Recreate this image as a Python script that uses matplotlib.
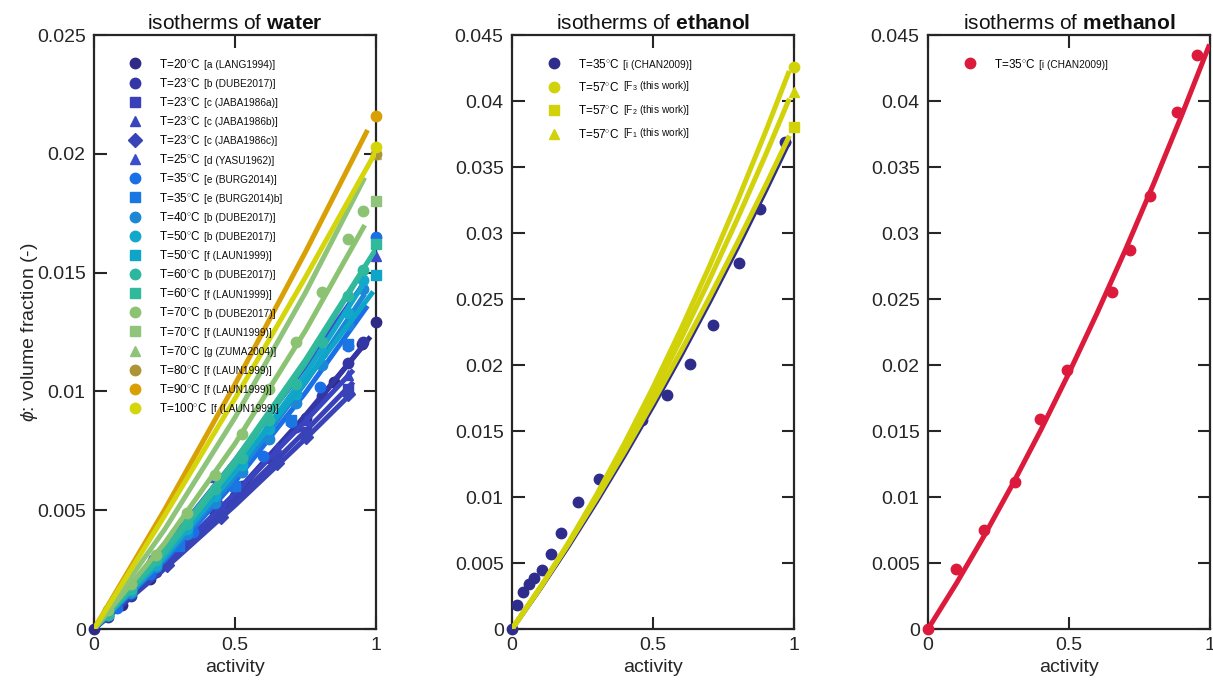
import matplotlib
matplotlib.use('Agg')
import matplotlib.pyplot as plt

plt.rcParams['font.family'] = ['Liberation Sans', 'DejaVu Sans']
plt.rcParams['mathtext.fontset'] = 'custom'
plt.rcParams['mathtext.rm'] = 'Liberation Sans'
plt.rcParams['mathtext.it'] = 'Liberation Sans:italic'
plt.rcParams['mathtext.bf'] = 'Liberation Sans:bold'

AXC = '#262626'

# ---------------- water data ----------------
a_dube = [0.05, 0.13, 0.22, 0.33, 0.43, 0.525, 0.62, 0.715, 0.81, 0.90, 0.955]
phi_dube23 = [0.0005, 0.0014, 0.0024, 0.0037, 0.0049, 0.0060, 0.0072, 0.0085, 0.0098, 0.0112, 0.0121]
phi_dube40 = [0.0006, 0.0015, 0.0026, 0.0040, 0.0053, 0.0066, 0.0080, 0.0095, 0.0111, 0.0128, 0.0143]
phi_dube50 = [0.0006, 0.0016, 0.0027, 0.0042, 0.0056, 0.0069, 0.0084, 0.0099, 0.0116, 0.0133, 0.0147]
phi_dube60 = [0.0006, 0.0017, 0.0029, 0.0044, 0.0059, 0.0072, 0.0088, 0.0103, 0.0121, 0.0140, 0.0151]
phi_dube70 = [0.0008, 0.0019, 0.0031, 0.0049, 0.0065, 0.0082, 0.0101, 0.0121, 0.0142, 0.0164, 0.0176]

a_lang20 = [0.0, 0.10, 0.20, 0.50, 0.75, 0.85, 0.95, 1.0]
phi_lang20 = [0.0, 0.0010, 0.0021, 0.0056, 0.0089, 0.0104, 0.0120, 0.0129]

a_jaba = [0.26, 0.45, 0.65, 0.75, 0.90]
phi_jaba_a = [0.0028, 0.0049, 0.0072, 0.0083, 0.0101]
phi_jaba_b = [0.0030, 0.0052, 0.0076, 0.0088, 0.0107]
phi_jaba_c = [0.0027, 0.0047, 0.0070, 0.0081, 0.0099]

a_yasu25 = [0.20, 0.43, 0.70, 1.0]
phi_yasu25 = [0.0029, 0.0064, 0.0104, 0.0157]

a_burg35 = [0.08, 0.20, 0.35, 0.50, 0.60, 0.70, 0.80, 0.90, 1.0]
phi_burg35 = [0.0009, 0.0023, 0.0041, 0.0060, 0.0073, 0.0087, 0.0102, 0.0119, 0.0165]
a_burg35b = [0.30, 0.50, 0.70, 0.90]
phi_burg35b = [0.0035, 0.0060, 0.0088, 0.0120]

a_sat = [1.0]
phi_laun50 = [0.0149]
phi_laun60 = [0.0162]
phi_laun70 = [0.0180]
phi_zuma70 = [0.0200]
phi_laun80 = [0.0200]
phi_laun90 = [0.0216]
phi_laun100 = [0.0203]

# fitted isotherms
fa_lang20 = [0, 0.25, 0.5, 0.75, 0.98]
fp_lang20 = [0, 0.00262, 0.0056, 0.00893, 0.0123]
fa_dube = [0, 0.25, 0.5, 0.75, 0.96]
fp_dube23 = [0, 0.00270, 0.0057, 0.00900, 0.0120]
fp_dube40 = [0, 0.00294, 0.0064, 0.01037, 0.0141]
fp_dube50 = [0, 0.00303, 0.0066, 0.01072, 0.0146]
fp_dube60 = [0, 0.00318, 0.0069, 0.01118, 0.0152]
fp_dube70 = [0, 0.00361, 0.0078, 0.01256, 0.0170]
fa_jaba = [0, 0.25, 0.5, 0.75, 0.92]
fp_jaba_a = [0, 0.00263, 0.0054, 0.00833, 0.0104]
fp_jaba_b = [0, 0.00278, 0.0057, 0.00875, 0.0109]
fp_jaba_c = [0, 0.00253, 0.0052, 0.00801, 0.0100]
fa_yasu25 = [0, 0.25, 0.5, 0.75, 0.96]
fp_yasu25 = [0, 0.00341, 0.0071, 0.01106, 0.0146]
fa_burg35 = [0, 0.25, 0.5, 0.75, 0.97]
fp_burg35 = [0, 0.00288, 0.0062, 0.00995, 0.0136]
fa_laun50 = [0, 0.25, 0.5, 0.75, 0.99]
fp_laun50 = [0, 0.00323, 0.0067, 0.01041, 0.0142]
fa_laun60 = [0, 0.25, 0.5, 0.75, 1.0]
fp_laun60 = [0, 0.00333, 0.0071, 0.01133, 0.0160]
fa_zuma70 = [0, 0.25, 0.5, 0.75, 0.96]
fp_zuma70 = [0, 0.00418, 0.0089, 0.01416, 0.0190]
fa_laun90 = [0, 0.25, 0.5, 0.75, 0.97]
fp_laun90 = [0, 0.00501, 0.0103, 0.01587, 0.0210]
fa_laun100 = [0, 0.25, 0.5, 0.75, 1.0]
fp_laun100 = [0, 0.00476, 0.0097, 0.01481, 0.0201]

water_temps = ['20', '23', '23', '23', '23', '25', '35', '35', '40', '50', '50', '60',
               '60', '70', '70', '70', '80', '90', '100']
water_refs = ['[a (LANG1994)]', '[b (DUBE2017)]', '[c (JABA1986a)]', '[c (JABA1986b)]',
              '[c (JABA1986c)]', '[d (YASU1962)]', '[e (BURG2014)]', '[e (BURG2014)b]',
              '[b (DUBE2017)]', '[b (DUBE2017)]', '[f (LAUN1999)]', '[b (DUBE2017)]',
              '[f (LAUN1999)]', '[b (DUBE2017)]', '[f (LAUN1999)]', '[g (ZUMA2004)]',
              '[f (LAUN1999)]', '[f (LAUN1999)]', '[f (LAUN1999)]']
water_colors = ['#2f2a85', '#3436a6', '#3a40b8', '#3a44c0', '#3943b8', '#3b4ccc',
                '#1b6fe6', '#1a76e0', '#1c87d6', '#12a8cc', '#0ea5c8', '#2db79f',
                '#31b99c', '#8bc373', '#90c47c', '#8ec47a', '#ad9535', '#d9a005',
                '#d5d50b']
water_markers = ['o', 'o', 's', '^', 'D', '^', 'o', 's', 'o', 'o', 's', 'o', 's',
                 'o', 's', '^', 'o', 'o', 'o']
water_points = [(a_lang20, phi_lang20), (a_dube, phi_dube23), (a_jaba, phi_jaba_a),
                (a_jaba, phi_jaba_b), (a_jaba, phi_jaba_c), (a_yasu25, phi_yasu25),
                (a_burg35, phi_burg35), (a_burg35b, phi_burg35b), (a_dube, phi_dube40),
                (a_dube, phi_dube50), (a_sat, phi_laun50), (a_dube, phi_dube60),
                (a_sat, phi_laun60), (a_dube, phi_dube70), (a_sat, phi_laun70),
                (a_sat, phi_zuma70), (a_sat, phi_laun80), (a_sat, phi_laun90),
                (a_sat, phi_laun100)]
water_fits = [(fa_lang20, fp_lang20), (fa_dube, fp_dube23), (fa_jaba, fp_jaba_a),
              (fa_jaba, fp_jaba_b), (fa_jaba, fp_jaba_c), (fa_yasu25, fp_yasu25),
              (fa_burg35, fp_burg35), None, (fa_dube, fp_dube40),
              (fa_dube, fp_dube50), (fa_laun50, fp_laun50), (fa_dube, fp_dube60),
              (fa_laun60, fp_laun60), (fa_dube, fp_dube70), None,
              (fa_zuma70, fp_zuma70), None, (fa_laun90, fp_laun90),
              (fa_laun100, fp_laun100)]

# ---------------- ethanol data ----------------
a_chan_eth = [0.0, 0.018, 0.039, 0.059, 0.078, 0.107, 0.137, 0.175, 0.234, 0.308,
              0.461, 0.548, 0.631, 0.712, 0.804, 0.878, 0.967]
phi_chan_eth = [0.0, 0.0018, 0.0028, 0.0034, 0.0039, 0.0045, 0.0057, 0.0073, 0.0096,
                0.0114, 0.0158, 0.0177, 0.0201, 0.0230, 0.0277, 0.0318, 0.0369]
a_eth57 = [1.0]
phi_eth_F3 = [0.0426]
phi_eth_F2 = [0.0380]
phi_eth_F1 = [0.0407]
fa_eth = [0, 0.1, 0.2, 0.3, 0.4, 0.5, 0.6, 0.7, 0.8, 0.9, 0.98]
fp_eth_chan = [0, 0.00307, 0.00629, 0.00967, 0.01321, 0.0169, 0.02075, 0.02476, 0.02892, 0.03324, 0.0368]
fp_eth_F3 = [0, 0.00313, 0.00653, 0.01018, 0.01411, 0.0183, 0.02276, 0.02748, 0.03246, 0.03771, 0.0421]
fp_eth_F2 = [0, 0.00314, 0.00644, 0.00988, 0.01347, 0.0172, 0.02108, 0.02511, 0.0293, 0.03363, 0.0372]
fp_eth_F1 = [0, 0.00313, 0.00646, 0.01003, 0.01381, 0.0178, 0.02201, 0.02645, 0.0311, 0.03595, 0.0400]

# ---------------- methanol data ----------------
a_chan_meth = [0.0, 0.10, 0.20, 0.308, 0.398, 0.494, 0.651, 0.715, 0.788, 0.882, 0.953]
phi_chan_meth = [0.0, 0.00455, 0.0075, 0.0111, 0.0159, 0.0196, 0.0255, 0.0287, 0.0328, 0.0392, 0.0435]
fa_meth = [0, 0.1, 0.2, 0.3, 0.4, 0.5, 0.6, 0.7, 0.8, 0.9, 0.995]
fp_meth = [0, 0.00343, 0.00709, 0.01097, 0.01507, 0.0194, 0.02395, 0.02872, 0.03372, 0.03894, 0.0441]

C_NAVY = '#2f2d8c'
C_YEL = '#d2d20b'
C_RED = '#dc1a3c'

ytick_water = [0, 0.005, 0.01, 0.015, 0.02, 0.025]
ytick_alc = [0, 0.005, 0.01, 0.015, 0.02, 0.025, 0.03, 0.035, 0.04, 0.045]
xticks = [0, 0.5, 1]

fig = plt.figure(figsize=(12.13, 6.86), dpi=100)
W, H = 1213, 686
def rect(x0):
    return [x0 / W, 57 / H, 282 / W, 594 / H]
ax1 = fig.add_axes(rect(94))
ax2 = fig.add_axes(rect(512))
ax3 = fig.add_axes(rect(928))

LW = 3.6
MS = 7.5
FS_MAIN = 8.5
FS_REF = 7.3

def style(ax, yt, ymax, name):
    ax.set_xlim(0, 1)
    ax.set_ylim(0, ymax)
    ax.set_xticks(xticks)
    ax.set_xticklabels(['0', '0.5', '1'])
    ax.set_yticks(yt)
    ax.set_yticklabels(['%g' % v for v in yt])
    ax.tick_params(direction='in', length=9, width=1.5, top=True, right=True,
                   labelsize=14, colors=AXC, pad=6)
    for s in ax.spines.values():
        s.set_linewidth(1.6)
        s.set_color(AXC)
    ax.set_xlabel('activity', fontsize=14, color=AXC, labelpad=3)
    ax.set_title('isotherms of $\\mathbf{%s}$' % name, fontsize=15, color='#111111', pad=4)

def add_legend(ax, refs, x, y, spacing):
    leg = ax.legend(loc='upper left', bbox_to_anchor=(x, y), frameon=False,
                    fontsize=FS_MAIN, handlelength=1.0, handletextpad=1.5,
                    labelspacing=spacing, borderpad=0, borderaxespad=0, numpoints=1)
    for t, r in zip(leg.get_texts(), refs):
        ax.annotate(r, xy=(1, 0), xycoords=t, xytext=(2.5, 0.5),
                    textcoords='offset points', fontsize=FS_REF, color='#111111',
                    ha='left', va='bottom', zorder=10, annotation_clip=False)
    return leg

for tmp, col, mk, pts, fit in zip(water_temps, water_colors, water_markers, water_points, water_fits):
    ax1.plot(pts[0], pts[1], linestyle='none', marker=mk, color=col, ms=MS,
             label='T=%s$^{\\circ}$C' % tmp, clip_on=False, zorder=3)
    if fit is not None:
        ax1.plot(fit[0], fit[1], '-', color=col, lw=LW, solid_capstyle='butt', zorder=3)

style(ax1, ytick_water, 0.025, 'water')
ax1.set_ylabel('$\\phi$: volume fraction (-)', fontsize=14, color=AXC, labelpad=-2.5)
add_legend(ax1, water_refs, 0.125, 0.962, 0.52)

eth_refs = ['[i (CHAN2009)]', '[F$_3$ (this work)]', '[F$_2$ (this work)]', '[F$_1$ (this work)]']
ax2.plot(a_chan_eth, phi_chan_eth, linestyle='none', marker='o', color=C_NAVY, ms=MS,
         label='T=35$^{\\circ}$C', clip_on=False, zorder=3)
ax2.plot(fa_eth, fp_eth_chan, '-', color=C_NAVY, lw=LW, zorder=3)
ax2.plot(a_eth57, phi_eth_F3, linestyle='none', marker='o', color=C_YEL, ms=MS,
         label='T=57$^{\\circ}$C', clip_on=False, zorder=3)
ax2.plot(fa_eth, fp_eth_F3, '-', color=C_YEL, lw=LW, zorder=3)
ax2.plot(a_eth57, phi_eth_F2, linestyle='none', marker='s', color=C_YEL, ms=MS,
         label='T=57$^{\\circ}$C', clip_on=False, zorder=3)
ax2.plot(fa_eth, fp_eth_F2, '-', color=C_YEL, lw=LW, zorder=3)
ax2.plot(a_eth57, phi_eth_F1, linestyle='none', marker='^', color=C_YEL, ms=MS,
         label='T=57$^{\\circ}$C', clip_on=False, zorder=3)
ax2.plot(fa_eth, fp_eth_F1, '-', color=C_YEL, lw=LW, zorder=3)
style(ax2, ytick_alc, 0.045, 'ethanol')
add_legend(ax2, eth_refs, 0.128, 0.962, 0.88)

ax3.plot(a_chan_meth, phi_chan_meth, linestyle='none', marker='o', color=C_RED, ms=MS,
         label='T=35$^{\\circ}$C', clip_on=False, zorder=3)
ax3.plot(fa_meth, fp_meth, '-', color=C_RED, lw=LW, zorder=3)
style(ax3, ytick_alc, 0.045, 'methanol')
add_legend(ax3, ['[i (CHAN2009)]'], 0.128, 0.962, 0.88)

fig.savefig('out.png', dpi=100)
